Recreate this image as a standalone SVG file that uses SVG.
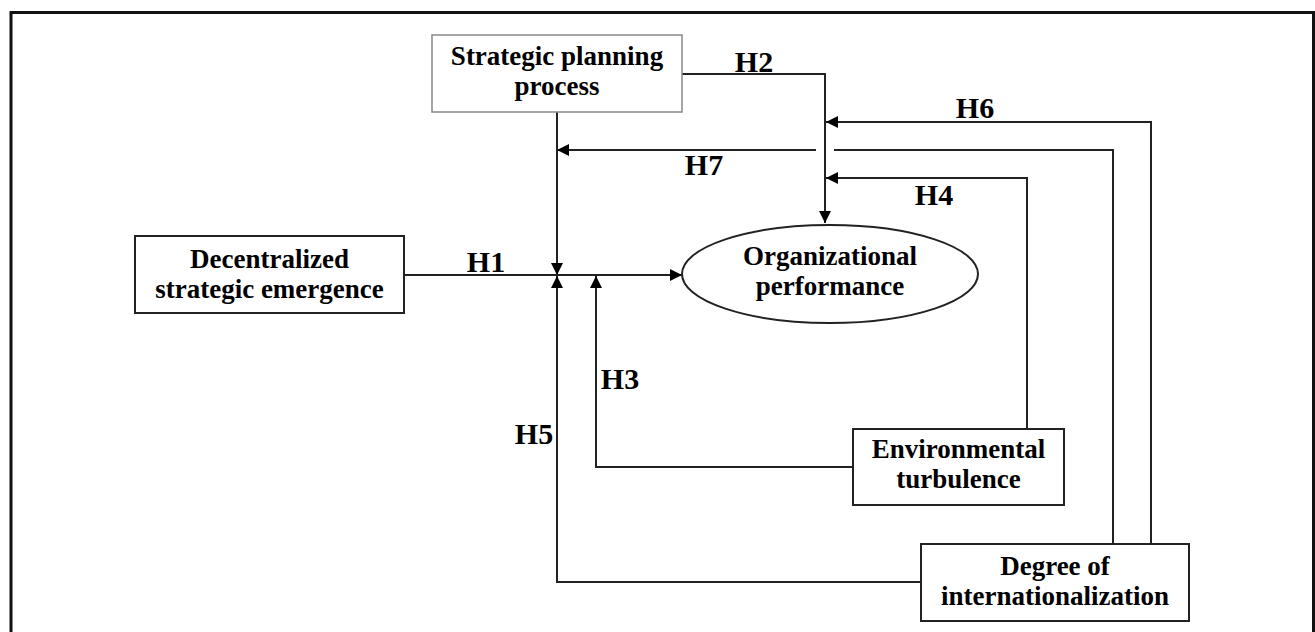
<svg xmlns="http://www.w3.org/2000/svg" width="1315" height="632" viewBox="0 0 1315 632">
<style>
.box{fill:#fff;stroke:#222;stroke-width:2}
.box2{fill:#fff;stroke:#888;stroke-width:1.5}
.t{font-family:"Liberation Serif","Times New Roman",serif;font-weight:bold;font-size:27px;fill:#000;text-anchor:middle}
.h{font-family:"Liberation Serif","Times New Roman",serif;font-weight:bold;font-size:30px;fill:#000;text-anchor:middle}
.c{fill:none;stroke:#222;stroke-width:2}
.a{marker-end:url(#ah)}
</style>
<defs>
<marker id="ah" markerUnits="userSpaceOnUse" markerWidth="13" markerHeight="12" refX="12" refY="6" orient="auto">
<path d="M0,0 L12,6 L0,12 z" fill="#000"/>
</marker>
</defs>
<rect width="1315" height="632" fill="#fff"/>
<path d="M11,640 V12.5 H1313.5 V640" fill="none" stroke="#111" stroke-width="3"/>
<g id="connectors">
<path class="c a" d="M682,74 H825 V223"/>
<path class="c a" d="M1151,544 V122 H826"/>
<path class="c a" d="M1113,544 V150 H834 M816,150 H557"/>
<path class="c a" d="M1027,429 V178 H826"/>
<path class="c a" d="M557,112 V275"/>
<path class="c a" d="M404,275 H682"/>
<path class="c a" d="M853,467 H596 V276"/>
<path class="c a" d="M921,582 H557 V276"/>
<text class="h" x="754" y="72">H2</text>
<text class="h" x="975" y="118">H6</text>
<text class="h" x="704" y="175">H7</text>
<text class="h" x="934" y="205">H4</text>
<text class="h" x="486" y="272">H1</text>
<text class="h" x="620" y="389">H3</text>
<text class="h" x="534" y="444">H5</text>
</g>
<g id="strategic">
<rect class="box2" x="432" y="35" width="250" height="77"/>
<text class="t" x="557" y="65">Strategic planning</text>
<text class="t" x="557" y="95">process</text>
</g>
<g id="decentralized">
<rect class="box" x="135" y="236" width="269" height="77"/>
<text class="t" x="269.5" y="268">Decentralized</text>
<text class="t" x="269.5" y="298">strategic emergence</text>
</g>
<g id="performance">
<ellipse cx="830" cy="274" rx="148" ry="49" fill="#fff" stroke="#222" stroke-width="2"/>
<text class="t" x="830" y="265">Organizational</text>
<text class="t" x="830" y="295">performance</text>
</g>
<g id="turbulence">
<rect class="box" x="853" y="429" width="211" height="76"/>
<text class="t" x="958.5" y="458">Environmental</text>
<text class="t" x="958.5" y="488">turbulence</text>
</g>
<g id="internationalization">
<rect class="box" x="921" y="544" width="268" height="77"/>
<text class="t" x="1055" y="575">Degree of</text>
<text class="t" x="1055" y="605">internationalization</text>
</g>
</svg>
